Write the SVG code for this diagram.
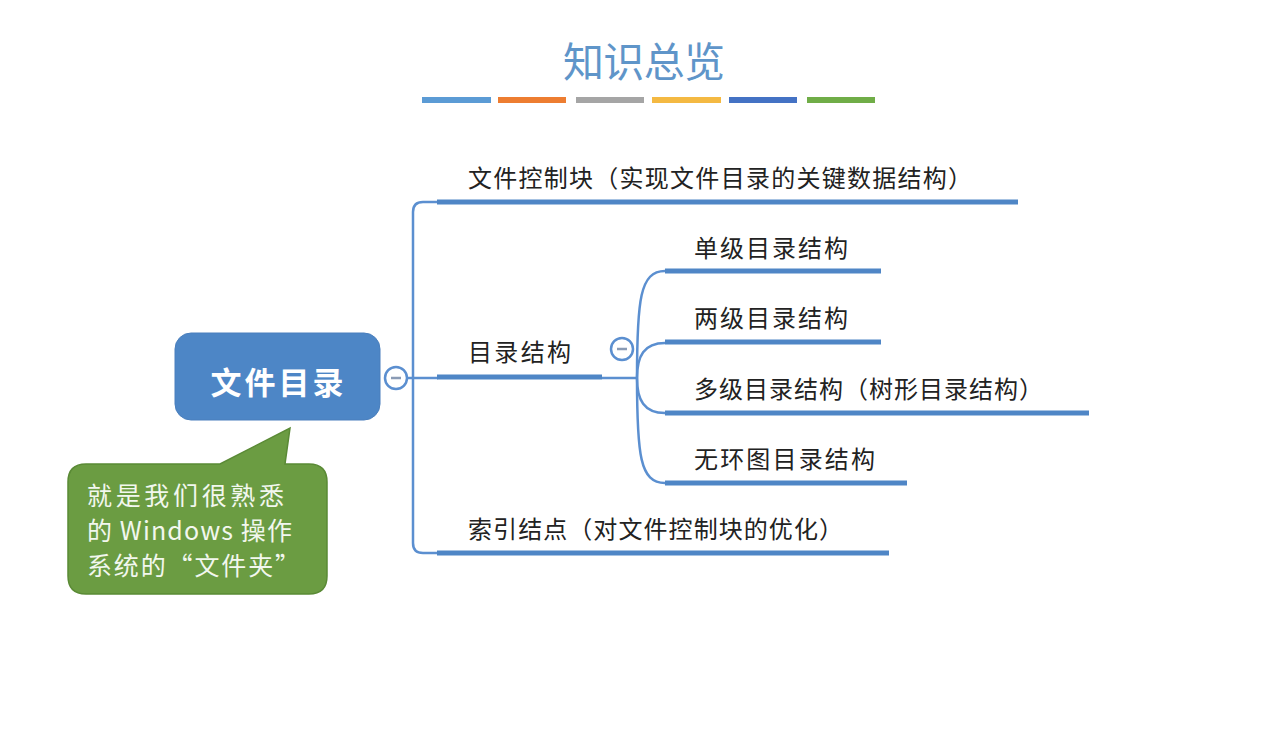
<svg xmlns="http://www.w3.org/2000/svg" width="1282" height="752" viewBox="0 0 1282 752">
<style>
  .t { font-family: "Noto Sans CJK SC", "Noto Sans", sans-serif; font-size: 24px; fill: #222; }
  .ul { stroke: #4f86c6; stroke-width: 5; stroke-linecap: butt; fill: none; }
  .ln { stroke: #5b8fd0; stroke-width: 2.5; fill: none; }
  .col { fill: #fff; stroke: #5b8fd0; stroke-width: 2.5; }
  .minus { stroke: #8a9bb5; stroke-width: 2.5; }
</style>
<rect width="1282" height="752" fill="#fff"/>

<g id="title">
  <text x="644" y="77" text-anchor="middle" style="font-family:'Noto Sans CJK SC',sans-serif;font-size:41px;fill:#5f95c9" textLength="162" lengthAdjust="spacing">知识总览</text>
  <rect x="422" y="97" width="69" height="6" fill="#5b9bd5"/>
  <rect x="498" y="97" width="68" height="6" fill="#ed7d31"/>
  <rect x="576" y="97" width="68" height="6" fill="#a5a5a5"/>
  <rect x="652" y="97" width="69" height="6" fill="#f4b942"/>
  <rect x="729" y="97" width="68" height="6" fill="#4472c4"/>
  <rect x="807" y="97" width="68" height="6" fill="#70ad47"/>
</g>

<g id="connectors">
  <line class="ln" x1="408" y1="378" x2="438" y2="378"/>
  <path class="ln" d="M438 202 H423 Q413 202 413 212 V543 Q413 553 423 553 H438"/>
  <line class="ln" x1="602" y1="378" x2="637" y2="378"/>
  <path class="ln" d="M637 378 C637 300 640 271 665 271"/>
  <path class="ln" d="M637 378 C637 356 644 343 665 343"/>
  <path class="ln" d="M637 378 C637 400 644 413 665 413"/>
  <path class="ln" d="M637 378 C637 455 640 483 665 483"/>
</g>

<g id="root">
  <rect x="175" y="333" width="205" height="87" rx="16" fill="#4d86c6" stroke="#4a7fbd" stroke-width="1"/>
  <text x="277" y="394" text-anchor="middle" style="font-family:'Noto Sans CJK SC',sans-serif;font-size:31px;font-weight:bold;fill:#fff" textLength="133" lengthAdjust="spacing">文件目录</text>
  <circle class="col" cx="396" cy="378" r="11"/>
  <line class="minus" x1="391" y1="378" x2="401" y2="378"/>
</g>

<g id="fcb">
  <text class="t" x="468" y="187" textLength="504" lengthAdjust="spacing">文件控制块（实现文件目录的关键数据结构）</text>
  <line class="ul" x1="437" y1="202" x2="1018" y2="202"/>
</g>

<g id="dirstruct">
  <text class="t" x="468" y="361" textLength="103" lengthAdjust="spacing">目录结构</text>
  <line class="ul" x1="437" y1="377" x2="602" y2="377"/>
  <circle class="col" cx="622" cy="349" r="11"/>
  <line class="minus" x1="617" y1="349" x2="627" y2="349"/>
</g>

<g id="single">
  <text class="t" x="694" y="257" textLength="154" lengthAdjust="spacing">单级目录结构</text>
  <line class="ul" x1="665" y1="271" x2="881" y2="271"/>
</g>

<g id="two">
  <text class="t" x="694" y="327" textLength="154" lengthAdjust="spacing">两级目录结构</text>
  <line class="ul" x1="665" y1="342" x2="881" y2="342"/>
</g>

<g id="multi">
  <text class="t" x="694" y="398" textLength="349" lengthAdjust="spacing">多级目录结构（树形目录结构）</text>
  <line class="ul" x1="665" y1="413" x2="1089" y2="413"/>
</g>

<g id="acyclic">
  <text class="t" x="694" y="468" textLength="181" lengthAdjust="spacing">无环图目录结构</text>
  <line class="ul" x1="665" y1="483" x2="907" y2="483"/>
</g>

<g id="inode">
  <text class="t" x="468" y="538" textLength="375" lengthAdjust="spacing">索引结点（对文件控制块的优化）</text>
  <line class="ul" x1="437" y1="553" x2="889" y2="553"/>
</g>

<g id="callout">
  <path d="M86 464 H220 L290 428 L285 464 H309 Q327 464 327 482 V576 Q327 594 309 594 H86 Q68 594 68 576 V482 Q68 464 86 464 Z" fill="#6b9c42" stroke="#5a8a35" stroke-width="1.5"/>
  <g style="font-family:'Noto Sans CJK SC',sans-serif;font-size:25px;fill:#f2f7ee">
    <text x="87" y="505" textLength="197" lengthAdjust="spacing">就是我们很熟悉</text>
    <text x="87" y="540" textLength="205" lengthAdjust="spacing">的 Windows 操作</text>
    <text x="87" y="575" textLength="213" lengthAdjust="spacing">系统的“文件夹”</text>
  </g>
</g>
</svg>
